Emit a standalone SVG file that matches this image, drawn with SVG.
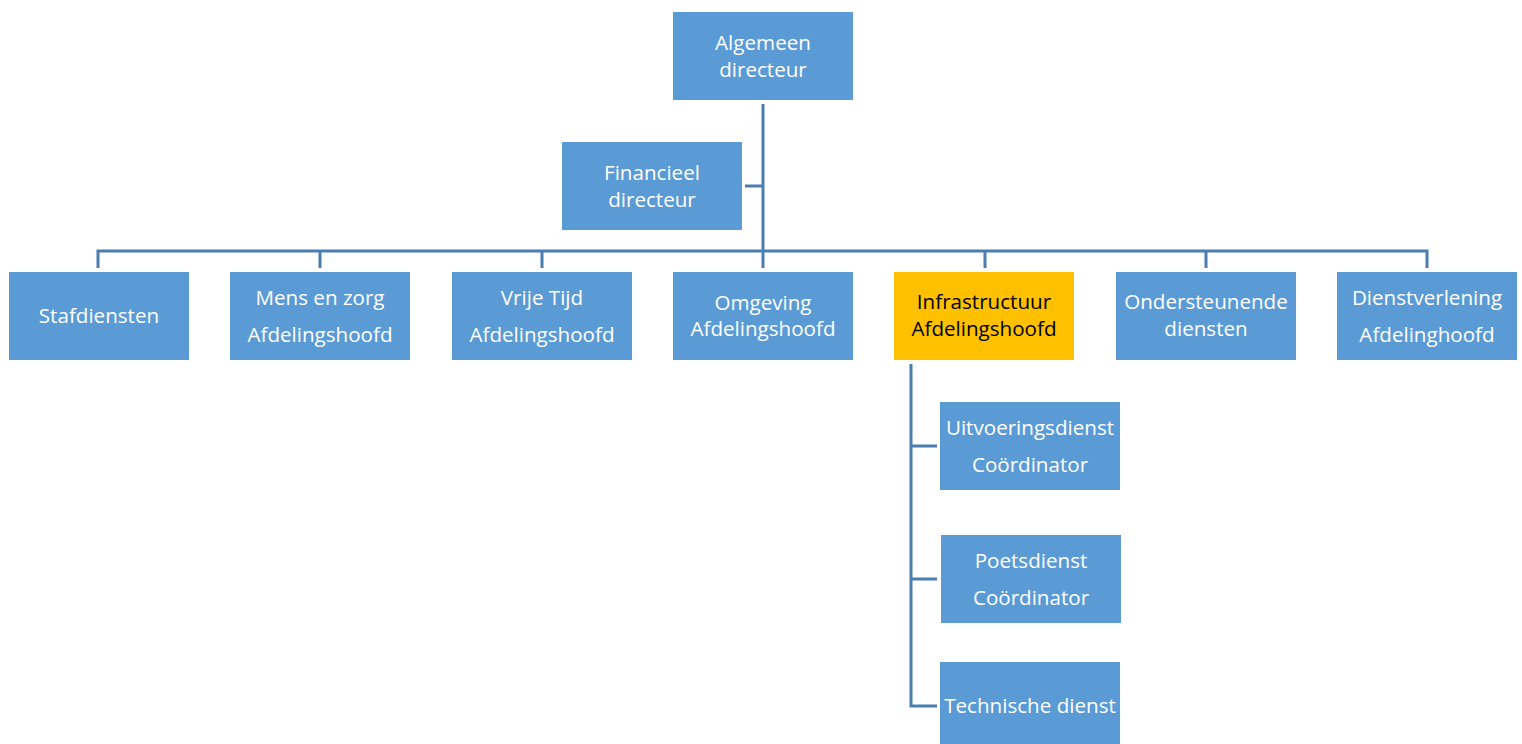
<svg xmlns="http://www.w3.org/2000/svg" width="1522" height="744" viewBox="0 0 1522 744">
<style>
.box{fill:#5b9bd5;}
.hl{fill:#ffc000;}
.t{font-family:"Open Sans","Liberation Sans",sans-serif;font-size:20.6px;fill:#ffffff;text-anchor:middle;}
.tk{fill:#000000;}
.c{stroke:#4a7eb1;stroke-width:3;fill:none;}
</style>
<rect width="1522" height="744" fill="#ffffff"/>
<g id="connectors">
<path class="c" d="M763 104V268"/>
<path class="c" d="M745 186H763"/>
<path class="c" d="M98 268V251H1427V268"/>
<path class="c" d="M320 251V268M542 251V268M985 251V268M1206 251V268"/>
<path class="c" d="M911 364V706H937M911 446H937M911 579H937"/>
</g>
<g id="algemeen"><rect class="box" x="673" y="12" width="180" height="88"/><text class="t" x="763" y="50">Algemeen</text><text class="t" x="763" y="77">directeur</text></g>
<g id="financieel"><rect class="box" x="562" y="142" width="180" height="88"/><text class="t" x="652" y="180">Financieel</text><text class="t" x="652" y="207">directeur</text></g>
<g id="stafdiensten"><rect class="box" x="9" y="272" width="180" height="88"/><text class="t" x="99" y="323">Stafdiensten</text></g>
<g id="mens"><rect class="box" x="230" y="272" width="180" height="88"/><text class="t" x="320" y="305">Mens en zorg</text><text class="t" x="320" y="342">Afdelingshoofd</text></g>
<g id="vrijetijd"><rect class="box" x="452" y="272" width="180" height="88"/><text class="t" x="542" y="305">Vrije Tijd</text><text class="t" x="542" y="342">Afdelingshoofd</text></g>
<g id="omgeving"><rect class="box" x="673" y="272" width="180" height="88"/><text class="t" x="763" y="310">Omgeving</text><text class="t" x="763" y="336">Afdelingshoofd</text></g>
<g id="infrastructuur"><rect class="hl" x="894" y="272" width="180" height="88"/><text class="t tk" x="984" y="309">Infrastructuur</text><text class="t tk" x="984" y="336">Afdelingshoofd</text></g>
<g id="ondersteunende"><rect class="box" x="1116" y="272" width="180" height="88"/><text class="t" x="1206" y="309">Ondersteunende</text><text class="t" x="1206" y="336">diensten</text></g>
<g id="dienstverlening"><rect class="box" x="1337" y="272" width="180" height="88"/><text class="t" x="1427" y="305">Dienstverlening</text><text class="t" x="1427" y="342">Afdelinghoofd</text></g>
<g id="uitvoeringsdienst"><rect class="box" x="940" y="402" width="180" height="88"/><text class="t" x="1030" y="435">Uitvoeringsdienst</text><text class="t" x="1030" y="472">Coördinator</text></g>
<g id="poetsdienst"><rect class="box" x="941" y="535" width="180" height="88"/><text class="t" x="1031" y="568">Poetsdienst</text><text class="t" x="1031" y="605">Coördinator</text></g>
<g id="technische"><rect class="box" x="940" y="662" width="180" height="88"/><text class="t" x="1030" y="713">Technische dienst</text></g>
</svg>
